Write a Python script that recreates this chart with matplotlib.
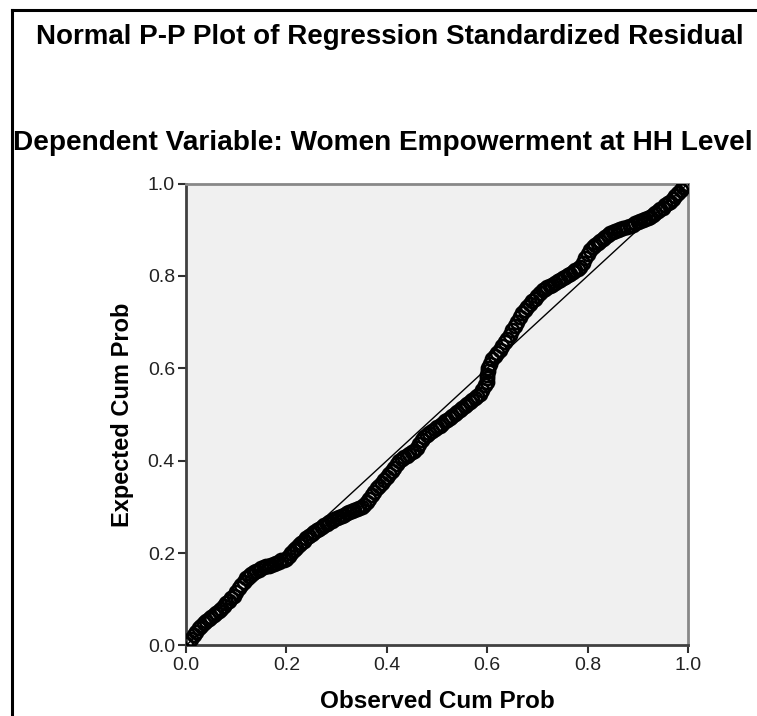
import matplotlib
matplotlib.use("Agg")
import matplotlib.pyplot as plt
from matplotlib.lines import Line2D

plt.rcParams['font.family'] = ['Liberation Sans', 'DejaVu Sans']

title = "Normal P-P Plot of Regression Standardized Residual"
subtitle = "Dependent Variable: Women Empowerment at HH Level"
xlabel = "Observed Cum Prob"
ylabel = "Expected Cum Prob"
ticks = [0.0, 0.2, 0.4, 0.6, 0.8, 1.0]

# points (observed cum prob, expected cum prob)
observed = [
    0.000, 0.005, 0.010, 0.015, 0.020, 0.025, 0.030, 0.035, 0.040, 0.045,
    0.050, 0.055, 0.060, 0.065, 0.070, 0.075, 0.080, 0.085, 0.090, 0.095,
    0.100, 0.105, 0.110, 0.115, 0.120, 0.125, 0.130, 0.135, 0.140, 0.145,
    0.150, 0.155, 0.160, 0.165, 0.170, 0.175, 0.180, 0.185, 0.190, 0.195,
    0.200, 0.205, 0.210, 0.215, 0.220, 0.225, 0.230, 0.235, 0.240, 0.245,
    0.250, 0.255, 0.260, 0.265, 0.270, 0.275, 0.280, 0.285, 0.290, 0.295,
    0.300, 0.305, 0.310, 0.315, 0.320, 0.325, 0.330, 0.335, 0.340, 0.345,
    0.350, 0.355, 0.360, 0.365, 0.370, 0.375, 0.380, 0.385, 0.390, 0.395,
    0.400, 0.405, 0.410, 0.415, 0.420, 0.425, 0.430, 0.435, 0.440, 0.445,
    0.450, 0.455, 0.460, 0.465, 0.470, 0.475, 0.480, 0.485, 0.490, 0.495,
    0.500, 0.505, 0.510, 0.515, 0.520, 0.525, 0.530, 0.535, 0.540, 0.545,
    0.550, 0.555, 0.560, 0.565, 0.570, 0.575, 0.580, 0.585, 0.590, 0.595,
    0.599, 0.600, 0.600, 0.601, 0.601, 0.605, 0.610, 0.615, 0.620, 0.625,
    0.630, 0.635, 0.640, 0.645, 0.650, 0.655, 0.660, 0.665, 0.670, 0.675,
    0.679, 0.685, 0.690, 0.695, 0.700, 0.705, 0.711, 0.715, 0.720, 0.725,
    0.730, 0.735, 0.740, 0.745, 0.750, 0.755, 0.760, 0.765, 0.770, 0.775,
    0.780, 0.785, 0.790, 0.795, 0.800, 0.804, 0.810, 0.815, 0.820, 0.825,
    0.830, 0.835, 0.840, 0.844, 0.850, 0.855, 0.860, 0.865, 0.870, 0.878,
    0.885, 0.890, 0.895, 0.900, 0.905, 0.910, 0.915, 0.920, 0.924, 0.930,
    0.935, 0.940, 0.945, 0.950, 0.955, 0.960, 0.964, 0.970, 0.975, 0.980,
    0.985, 0.990, 0.994, 0.998]
expected = [
    0.003, 0.009, 0.015, 0.022, 0.030, 0.037, 0.043, 0.048, 0.053, 0.058,
    0.062, 0.067, 0.071, 0.075, 0.080, 0.086, 0.091, 0.096, 0.102, 0.108,
    0.116, 0.124, 0.131, 0.138, 0.145, 0.150, 0.154, 0.158, 0.161, 0.164,
    0.167, 0.169, 0.171, 0.173, 0.175, 0.177, 0.179, 0.181, 0.184, 0.186,
    0.188, 0.194, 0.201, 0.207, 0.212, 0.217, 0.222, 0.227, 0.232, 0.237,
    0.241, 0.245, 0.249, 0.252, 0.256, 0.260, 0.264, 0.267, 0.270, 0.273,
    0.275, 0.278, 0.281, 0.283, 0.286, 0.288, 0.291, 0.293, 0.296, 0.298,
    0.300, 0.304, 0.310, 0.317, 0.325, 0.333, 0.340, 0.346, 0.352, 0.358,
    0.365, 0.371, 0.378, 0.385, 0.392, 0.399, 0.403, 0.407, 0.410, 0.414,
    0.418, 0.421, 0.428, 0.436, 0.444, 0.451, 0.456, 0.460, 0.464, 0.468,
    0.472, 0.476, 0.480, 0.485, 0.489, 0.493, 0.497, 0.502, 0.506, 0.510,
    0.514, 0.519, 0.523, 0.528, 0.532, 0.536, 0.541, 0.545, 0.554, 0.563,
    0.570, 0.578, 0.586, 0.594, 0.600, 0.609, 0.620, 0.627, 0.633, 0.640,
    0.648, 0.656, 0.664, 0.672, 0.682, 0.691, 0.701, 0.711, 0.719, 0.727,
    0.733, 0.740, 0.745, 0.751, 0.757, 0.762, 0.769, 0.772, 0.775, 0.778,
    0.781, 0.785, 0.788, 0.791, 0.795, 0.798, 0.802, 0.805, 0.809, 0.812,
    0.816, 0.819, 0.829, 0.838, 0.848, 0.856, 0.862, 0.866, 0.871, 0.875,
    0.880, 0.885, 0.889, 0.893, 0.895, 0.897, 0.899, 0.901, 0.903, 0.906,
    0.909, 0.911, 0.914, 0.916, 0.918, 0.920, 0.923, 0.925, 0.927, 0.932,
    0.936, 0.940, 0.944, 0.948, 0.953, 0.957, 0.960, 0.967, 0.973, 0.980,
    0.986, 0.992, 0.997, 0.999]

fig = plt.figure(figsize=(7.57, 7.16), dpi=100)
ax = fig.add_axes([0.2457, 0.0985, 0.6632, 0.6452])
ax.set_facecolor('#f0f0f0')

ax.plot([0, 1], [0, 1], color='black', lw=1, zorder=2)
ax.plot(observed, expected, 'o', mfc='none', mec='black', ms=9.5, mew=1.9, zorder=3)

ax.set_xlim(0, 1)
ax.set_ylim(0, 1)
ax.set_xticks(ticks)
ax.set_yticks(ticks)
ax.set_xticklabels(["%.1f" % t for t in ticks])
ax.set_yticklabels(["%.1f" % t for t in ticks])
ax.tick_params(direction='out', length=6, width=1.5, color='#303030',
               labelsize=14, labelcolor='#222222', pad=2)

for side in ['left', 'bottom']:
    ax.spines[side].set_color('#404040')
    ax.spines[side].set_linewidth(2)
for side in ['top', 'right']:
    ax.spines[side].set_color('#888888')
    ax.spines[side].set_linewidth(2)

ax.set_xlabel(xlabel, fontsize=17.5, fontweight='bold', labelpad=12)
ax.set_ylabel(ylabel, fontsize=17, fontweight='bold', labelpad=10)

fig.text(0.515, 0.948, title, ha='center', va='center', fontsize=20, fontweight='bold')
fig.text(0.5055, 0.800, subtitle, ha='center', va='center', fontsize=20.2, fontweight='bold')

# frame lines on left and top edge
fig.add_artist(Line2D([0.0152, 0.0152], [0, 0.986], transform=fig.transFigure, color='black', lw=2.2))
fig.add_artist(Line2D([0.0152, 1.0], [0.986, 0.986], transform=fig.transFigure, color='black', lw=2.2))

fig.savefig("out.png", dpi=100)
